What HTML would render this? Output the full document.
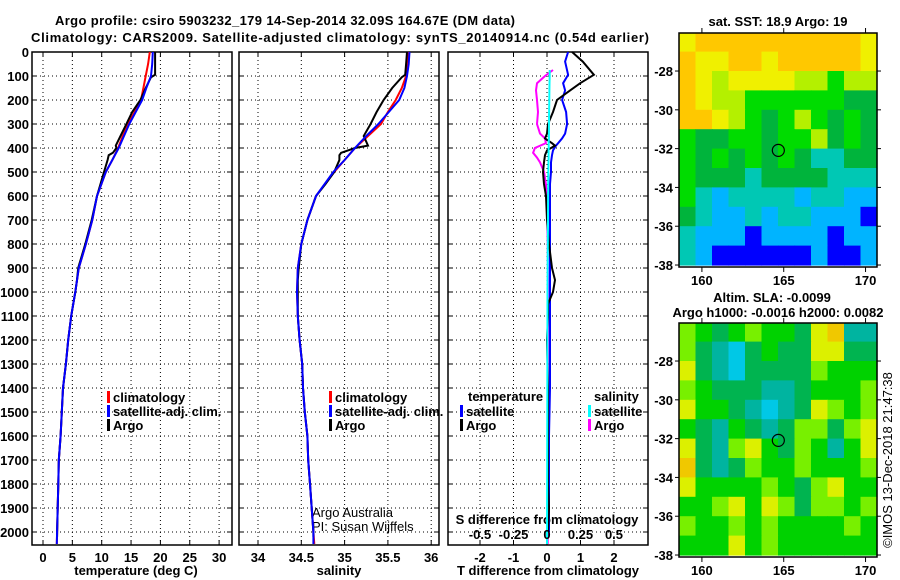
<!DOCTYPE html>
<html><head><meta charset="utf-8"><style>
body{margin:0;background:#fff}
svg{display:block;font-family:"Liberation Sans",sans-serif;font-weight:bold}
text{font-size:13px}
</style></head><body>
<svg id="c" width="900" height="580" viewBox="0 0 900 580">
<text x="285" y="25" text-anchor="middle" font-size="15" textLength="460">Argo profile: csiro 5903232_179 14-Sep-2014 32.09S 164.67E (DM data)</text>
<text x="340" y="42" text-anchor="middle" font-size="15" textLength="618">Climatology: CARS2009. Satellite-adjusted climatology: synTS_20140914.nc (0.54d earlier)</text>
<text x="778" y="26" text-anchor="middle">sat. SST: 18.9 Argo: 19</text>
<text x="772" y="302" text-anchor="middle">Altim. SLA: -0.0099</text>
<text x="778" y="317" text-anchor="middle">Argo h1000: -0.0016 h2000: 0.0082</text>
<text x="136" y="575" text-anchor="middle">temperature (deg C)</text>
<text x="339" y="575" text-anchor="middle">salinity</text>
<text x="548" y="575" text-anchor="middle">T difference from climatology</text>
<text x="547" y="524" text-anchor="middle">S difference from climatology</text>
<text x="312" y="517" font-weight="normal" font-size="12">Argo Australia</text>
<text x="312" y="531" font-weight="normal" font-size="12">PI: Susan Wijffels</text>
<text transform="translate(892,460) rotate(-90)" text-anchor="middle" font-weight="normal" font-size="12">©IMOS 13-Dec-2018 21:47:38</text>
</svg>
<script>
const depths=[0,50,100,150,200,250,300,350,400,450,500,600,700,800,900,1000,1100,1200,1300,1400,1500,1600,1700,1800,1900,2000,2050];
const tempClim=[18.2,17.9,17.5,17.1,16.7,15.6,14.5,13.6,12.8,11.8,10.7,9.2,8.4,7.3,6.1,5.5,4.8,4.3,3.9,3.4,3.2,3.0,2.7,2.6,2.5,2.4,2.35];
const tempSat=[18.7,18.6,18.4,17.6,16.9,15.8,14.7,13.8,12.9,11.8,10.7,9.2,8.4,7.3,6.1,5.5,4.8,4.3,3.9,3.4,3.2,3.0,2.7,2.6,2.5,2.4,2.35];
const salClim=[35.74,35.73,35.71,35.66,35.59,35.50,35.42,35.27,35.12,35.00,34.88,34.67,34.57,34.50,34.46,34.45,34.46,34.48,34.51,34.52,34.54,34.57,34.58,34.60,34.62,34.64,34.65];
const salSat=[35.75,35.74,35.72,35.69,35.63,35.51,35.39,35.25,35.12,35.00,34.87,34.67,34.57,34.50,34.46,34.45,34.46,34.48,34.51,34.52,34.54,34.57,34.58,34.60,34.62,34.64,34.64];
const argoDepth=[0,50,95,105,150,200,250,300,350,390,400,420,430,450,500,550,600,700,800,900,950,1000,1100,1200,1300,1400,1500,1600,1700,1800,1900,2000,2020];
const tempArgo=[19.1,19.1,19.1,18.4,17.5,16.6,15.2,14.2,13.2,12.4,12.5,11.9,11.2,11.0,10.4,9.8,9.2,8.3,7.2,6.0,5.8,5.5,4.8,4.3,3.9,3.4,3.2,3.0,2.7,2.6,2.5,2.4,2.4];
const salArgo=[35.72,35.71,35.70,35.66,35.55,35.45,35.37,35.30,35.22,35.27,35.12,34.96,34.94,34.94,34.88,34.78,34.67,34.57,34.50,34.47,34.46,34.46,34.46,34.48,34.51,34.52,34.54,34.57,34.58,34.60,34.62,34.64,34.64];
const diffDepth=[0,40,95,130,160,200,250,300,340,360,380,390,410,430,460,500,550,600,700,800,900,950,1000,1050,1100,1200,1400,1600,1800,1900,2000];
const tDiffArgo=[0.75,1.07,1.40,0.99,0.69,0.30,0.18,0.03,0,-0.06,0.15,0.24,0,-0.06,-0.09,-0.12,-0.09,-0.03,0,0.06,0.15,0.24,0.18,0.03,0.03,0,0.03,0.03,0.03,0.06,0.03];
const tDiffSat=[0.63,0.54,0.63,0.48,0.54,0.45,0.57,0.60,0.54,0.45,0.33,0.27,0.18,0.15,0.12,0.12,0.09,0.09,0.09,0.09,0.09,0.09,0.09,0.09,0.09,0.09,0.09,0.06,0.06,0.06,0.06];
const sDepth=[75,100,130,160,200,250,300,340,360,380,400,420,440,460,500,550,600,800,1000,1500,2000,2050];
const sDiffArgo=[0.045,-0.015,-0.075,-0.082,-0.075,-0.067,-0.075,-0.052,-0.015,-0.008,-0.09,-0.104,-0.075,-0.052,-0.022,-0.008,0,0.005,0.008,0.005,0.005,0.005];
const sDiffSat=[0.02,0.02,0.019,0.018,0.017,0.016,0.015,0.014,0.014,0.013,0.013,0.012,0.012,0.011,0.010,0.009,0.008,0.006,0.004,0.002,0,0];
const depthTicks=[0,100,200,300,400,500,600,700,800,900,1000,1100,1200,1300,1400,1500,1600,1700,1800,1900,2000];
const tempTicks=[0,5,10,15,20,25,30];
const salTicks=[34,34.5,35,35.5,36];
const tDiffTicks=[-2,-1,0,1,2];
const sDiffTicks=[-0.5,-0.25,0,0.25,0.5];
const sDiffLabels=['-0.5','-0.25','0','0.25','0.5'];
const mapLonTicks=[160,165,170];
const mapLatTicks=[-28,-30,-32,-34,-36,-38];
const sstColors=['#0000ff','#00b4ff','#00c8b4','#00b43c','#00dc00','#b4f000','#f0f000','#ffc800'];
const sstGrid=[
[6,7,7,7,7,7,7,7,7,7,7,6],[7,6,6,7,7,6,7,7,7,7,7,6],[7,6,5,6,6,6,6,5,5,4,5,5],[7,6,5,5,4,4,4,4,4,4,3,3],
[7,7,6,5,4,3,4,5,4,3,4,3],[4,3,3,4,4,3,4,4,5,3,4,3],[4,3,4,3,4,3,4,3,2,2,3,3],[4,3,3,3,2,3,3,3,3,2,2,2],
[4,2,1,2,2,2,2,1,2,2,1,1],[3,2,1,1,2,1,2,2,1,1,1,0],[2,1,1,1,0,1,1,1,1,0,1,1],[2,1,0,0,0,0,0,0,1,0,0,1]];
const slaColors=['#00c8e6','#00b4a0','#00b450','#00d200','#78f000','#dcf000','#f0c800'];
const slaGrid=[
[4,3,2,3,4,3,3,2,5,6,1,1],[4,2,1,0,2,3,2,2,5,5,2,2],[5,2,1,0,2,2,2,2,4,3,3,3],[4,3,2,2,2,1,1,2,3,3,3,4],
[5,3,3,2,1,0,1,2,5,4,3,4],[3,2,1,3,2,1,2,4,4,2,4,5],[5,2,1,4,5,3,2,4,3,1,3,5],[6,2,1,2,4,3,3,4,3,3,3,4],
[5,3,3,3,3,4,3,2,4,5,3,3],[3,3,4,5,3,5,4,2,4,4,3,4],[4,3,3,4,3,4,3,3,3,3,4,3],[3,3,3,5,3,4,3,3,3,3,3,3]];
const argoLon=164.67, argoLat=-32.09;

const svg=document.getElementById('c');const NS='http://www.w3.org/2000/svg';
function mk(t,a,p){const e=document.createElementNS(NS,t);for(const k in a)e.setAttribute(k,a[k]);(p||svg).appendChild(e);return e;}
const Y=d=>52+0.24*d;
const panels=[
 {x0:32,x1:232,sx:v=>43+5.87*v,ticks:tempTicks,name:'temperature-panel'},
 {x0:239,x1:439,sx:v=>258+86.6*(v-34),ticks:salTicks,name:'salinity-panel'},
 {x0:448,x1:648,sx:v=>547+33.5*v,ticks:tDiffTicks,name:'difference-panel'}];
const top0=52,bot=545;
panels.forEach((p,i)=>{
 const g=mk('g',{});
 
 
 depthTicks.forEach(d=>{const y=Y(d);
  const l=mk('line',{x1:p.x0,x2:p.x1,y1:y,y2:y,stroke:'#000','stroke-width':1,'stroke-dasharray':'1,3'},g);
  
  mk('line',{x1:p.x0,x2:p.x0+5,y1:y,y2:y,stroke:'#000'},g);mk('line',{x1:p.x1-5,x2:p.x1,y1:y,y2:y,stroke:'#000'},g);
  if(i==0){const t=mk('text',{x:29,y:y+5,'text-anchor':'end'},g);t.textContent=d;
   }
 });
 p.ticks.forEach(v=>{const x=p.sx(v);
  const l=mk('line',{x1:x,x2:x,y1:top0,y2:bot,stroke:'#000','stroke-dasharray':'1,3'},g);
  
  mk('line',{x1:x,x2:x,y1:bot-5,y2:bot,stroke:'#000'},g);mk('line',{x1:x,x2:x,y1:top0,y2:top0+5,stroke:'#000'},g);
  const t=mk('text',{x:x,y:562,'text-anchor':'middle'},g);t.textContent=v;
  
 });
 const r=mk('rect',{x:p.x0,y:top0,width:p.x1-p.x0,height:bot-top0,fill:'none',stroke:'#000','stroke-width':1.5},g);
 
});
function line(ds,vs,sx,col,name,w){
 const pts=ds.map((d,i)=>sx(vs[i]).toFixed(1)+','+Y(d).toFixed(1)).join(' ');
 const e=mk('polyline',{points:pts,fill:'none',stroke:col,'stroke-width':w||2});
 
}
const P=panels;
line(depths,tempClim,P[0].sx,'#f00','temp-climatology-line');
line(argoDepth,tempArgo,P[0].sx,'#000','temp-argo-line');
line(depths,tempSat,P[0].sx,'#00f','temp-satellite-line');
line(depths,salClim,P[1].sx,'#f00','sal-climatology-line');
line(argoDepth,salArgo,P[1].sx,'#000','sal-argo-line');
line(depths,salSat,P[1].sx,'#00f','sal-satellite-line');
const sdx=v=>P[2].sx(v*4);
line(sDepth,sDiffArgo,sdx,'#f0f','s-diff-argo-line');
line(diffDepth,tDiffSat,P[2].sx,'#00f','t-diff-satellite-line');
line(diffDepth,tDiffArgo,P[2].sx,'#000','t-diff-argo-line');
line(sDepth,sDiffSat,sdx,'#0ff','s-diff-satellite-line');
sDiffTicks.forEach((v,i)=>{const t=mk('text',{x:sdx(v),y:539,'text-anchor':'middle'});t.textContent=sDiffLabels[i];
 });
function legend(x,y,col,label,name){
 mk('rect',{x:x,y:y-11,width:3,height:12,fill:col});
 const t=mk('text',{x:x+6,y:y});t.textContent=label;
 
}
[[107,'#f00','climatology'],[107,'#00f','satellite-adj. clim.'],[107,'#000','Argo']].forEach((a,i)=>legend(a[0],402+i*14,a[1],a[2],'legend-entry'));
[[329,'#f00','climatology'],[329,'#00f','satellite-adj. clim.'],[329,'#000','Argo']].forEach((a,i)=>legend(a[0],402+i*14,a[1],a[2],'legend-entry'));
{const t=mk('text',{x:468,y:401});t.textContent='temperature';}
{const t=mk('text',{x:594,y:401});t.textContent='salinity';}
legend(460,416,'#00f','satellite','legend-entry');legend(460,430,'#000','Argo','legend-entry');
legend(588,416,'#0ff','satellite','legend-entry');legend(588,430,'#f0f','Argo','legend-entry');

function drawMap(y0,grid,cols,name){
 const x0=679,x1=877,y1=y0+234,lon0=158.6,lon1=170.7;
 const mx=l=>x0+(l-lon0)/(lon1-lon0)*(x1-x0);
 const my=la=>y0+(-26.04-la)*19.4;
 const g=mk('g',{});
 const cw=(x1-x0)/12;
 grid.forEach((row,r)=>row.forEach((v,c)=>{
  const top=my(-26-r),b=Math.min(my(-27-r),y1);const yt=Math.max(top,y0);
  const e=mk('rect',{x:(x0+c*cw).toFixed(1),y:yt.toFixed(1),width:(cw+0.6).toFixed(1),height:(b-yt+0.6).toFixed(1),fill:cols[v]},g);
  
 }));
 mapLonTicks.forEach(l=>{const x=mx(l);mk('line',{x1:x,x2:x,y1:y0,y2:y0-5,stroke:'#000'},g);mk('line',{x1:x,x2:x,y1:y1,y2:y1+5,stroke:'#000'},g);
  const t=mk('text',{x:x,y:y1+18,'text-anchor':'middle'},g);t.textContent=l;});
 mapLatTicks.forEach(la=>{const y=my(la);mk('line',{x1:x0,x2:x0-4,y1:y,y2:y,stroke:'#000'},g);mk('line',{x1:x1,x2:x1+4,y1:y,y2:y,stroke:'#000'},g);
  const t=mk('text',{x:673,y:y+5,'text-anchor':'end'},g);t.textContent=la;});
 mk('rect',{x:x0,y:y0,width:x1-x0,height:y1-y0,fill:'none',stroke:'#000','stroke-width':1.5},g);
 const c=mk('circle',{cx:mx(argoLon),cy:my(argoLat),r:6,fill:'none',stroke:'#000','stroke-width':1.2},g);
 
}
drawMap(33,sstGrid,sstColors,'sst-map');
drawMap(323,slaGrid,slaColors,'sla-map');
</script>
</body></html>
